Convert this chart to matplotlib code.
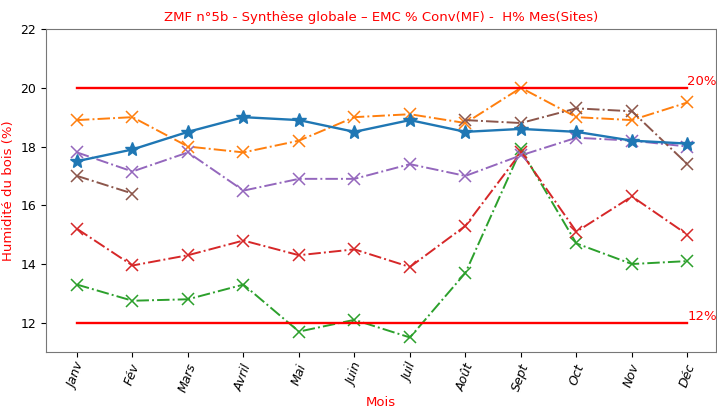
import numpy as np
import matplotlib
matplotlib.use("Agg")
import matplotlib.pyplot as plt

mois = ["Janv", "Fév", "Mars", "Avril", "Mai", "Juin", "Juil", "Août", "Sept", "Oct", "Nov", "Déc"]

# EMC % conv (MF) - blue stars
emc_conv = [17.5, 17.9, 18.5, 19.0, 18.9, 18.5, 18.9, 18.5, 18.6, 18.5, 18.2, 18.1]
# H% mesures sites
site_orange = [18.9, 19.0, 18.0, 17.8, 18.2, 19.0, 19.1, 18.8, 20.0, 19.0, 18.9, 19.5]
site_green = [13.3, 12.75, 12.8, 13.3, 11.7, 12.1, 11.5, 13.7, 17.9, 14.7, 14.0, 14.1]
site_red = [15.2, 13.95, 14.3, 14.8, 14.3, 14.5, 13.9, 15.3, 17.8, 15.1, 16.3, 15.0]
site_purple = [17.8, 17.15, 17.8, 16.5, 16.9, 16.9, 17.4, 17.0, 17.7, 18.3, 18.2, 18.0]
site_brown = [17.0, 16.4, np.nan, np.nan, np.nan, np.nan, np.nan, 18.9, 18.8, 19.3, 19.2, 17.4]

seuil_haut = 20
seuil_bas = 12

x = np.arange(len(mois))

fig = plt.figure(figsize=(7.17, 4.09), dpi=100)
ax = fig.add_axes([0.064, 0.139, 0.935, 0.79])

for serie, col in [(site_orange, "C1"), (site_green, "C2"), (site_red, "C3"),
                   (site_purple, "C4"), (site_brown, "C5")]:
    ax.plot(x, serie, color=col, linestyle="-.", marker="x", markersize=9,
            markeredgewidth=1.1, linewidth=1.4)
ax.plot(x, emc_conv, color="C0", linestyle="-", marker="*", markersize=10, linewidth=1.7)

# seuils 20% et 12%
ax.plot([x[0], x[-1]], [seuil_haut, seuil_haut], color="red", linewidth=1.7)
ax.plot([x[0], x[-1]], [seuil_bas, seuil_bas], color="red", linewidth=1.7)
ax.text(x[-1], seuil_haut, "20%", color="red", fontsize=9.5, ha="left", va="bottom")
ax.text(x[-1], seuil_bas, "12%", color="red", fontsize=9.5, ha="left", va="bottom")

ax.set_xlim(-0.56, 11.52)
ax.set_ylim(11.0, 22)
ax.set_yticks([12, 14, 16, 18, 20, 22])
ax.set_xticks(x)
ax.set_xticklabels(mois, rotation=70, fontstyle="italic", fontsize=9)
ax.tick_params(axis="y", labelsize=9)
for s in ax.spines.values():
    s.set_color("#777777")

ax.set_title("ZMF n°5b - Synthèse globale – EMC % Conv(MF) -  H% Mes(Sites)", color="red", fontsize=9.5)
ax.set_ylabel("Humidité du bois (%)", color="red", fontsize=9.5)
ax.set_xlabel("Mois", color="red", fontsize=9.5, labelpad=1)

fig.savefig("out.png", dpi=100)
